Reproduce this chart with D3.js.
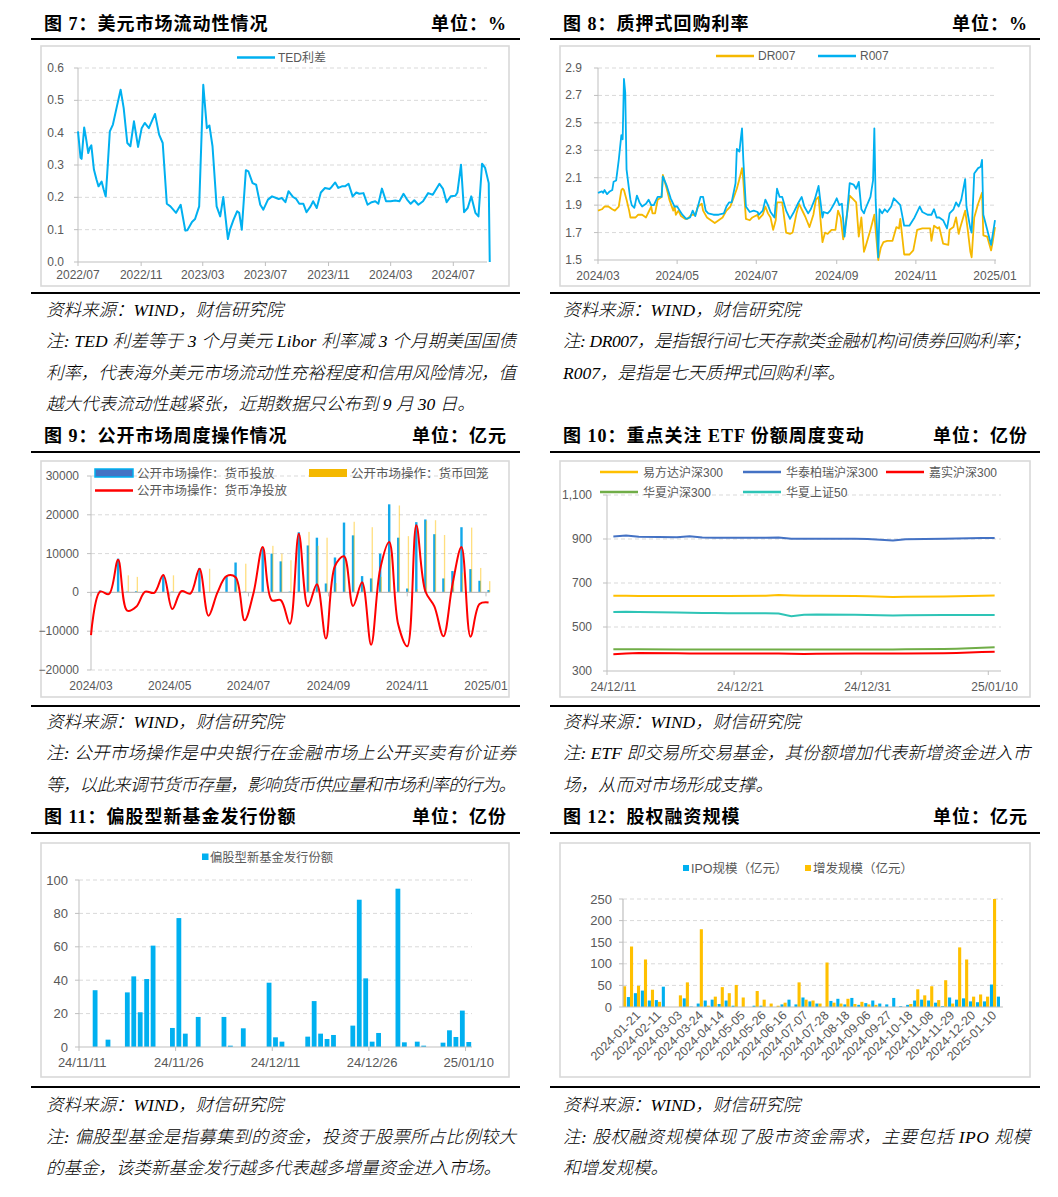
<!DOCTYPE html>
<html lang="zh-CN">
<head>
<meta charset="utf-8">
<title>charts</title>
<script src="https://cdn.jsdelivr.net/npm/d3@7/dist/d3.min.js"></script>
<style>
html,body{margin:0;padding:0;background:#fff;}
svg{display:block;}
</style>
</head>
<body>
<svg id="page" width="1058" height="1197" viewBox="0 0 1058 1197"></svg>
<script>
// ================= DATA =================
// Fig 7: TED spread
const tedDates = ["2022-07-01","2022-07-06","2022-07-08","2022-07-13","2022-07-16","2022-07-21","2022-07-24","2022-07-27","2022-08-01","2022-08-06",
"2022-08-10","2022-08-16","2022-08-20","2022-08-24","2022-08-27","2022-09-01","2022-09-07","2022-09-14","2022-09-22","2022-09-28",
"2022-10-05","2022-10-11","2022-10-18","2022-10-26","2022-11-02","2022-11-08","2022-11-16","2022-11-28","2022-12-06","2022-12-13",
"2022-12-21","2022-12-28","2023-01-08","2023-01-17","2023-01-26","2023-01-30","2023-02-08","2023-02-14","2023-02-22","2023-03-02",
"2023-03-09","2023-03-14","2023-03-20","2023-03-28","2023-04-04","2023-04-10","2023-04-19","2023-04-23","2023-04-30","2023-05-07",
"2023-05-11","2023-05-16","2023-05-24","2023-05-29","2023-06-06","2023-06-13","2023-06-21","2023-06-27","2023-07-06","2023-07-14",
"2023-07-22","2023-07-27","2023-08-02","2023-08-09","2023-08-15","2023-08-24","2023-08-30","2023-09-05","2023-09-13","2023-09-19",
"2023-09-27","2023-10-02","2023-10-09","2023-10-17","2023-10-25","2023-11-03","2023-11-07","2023-11-14","2023-11-20","2023-11-27",
"2023-12-03","2023-12-10","2023-12-18","2023-12-25","2023-12-31","2024-01-08","2024-01-16","2024-01-24","2024-01-31","2024-02-06",
"2024-02-13","2024-02-21","2024-03-01","2024-03-10","2024-03-18","2024-03-26","2024-04-02","2024-04-09","2024-04-16","2024-04-24",
"2024-05-03","2024-05-13","2024-05-22","2024-06-04","2024-06-11","2024-06-18","2024-06-26","2024-07-05","2024-07-09","2024-07-16",
"2024-07-22","2024-07-29","2024-08-05","2024-08-13","2024-08-19","2024-08-26","2024-09-01","2024-09-08","2024-09-10"];
const tedValues = [0.404,0.322,0.319,0.416,0.389,0.337,0.353,0.361,0.286,0.255,
0.234,0.249,0.224,0.203,0.275,0.404,0.425,0.476,0.533,0.476,
0.368,0.358,0.435,0.356,0.414,0.430,0.414,0.458,0.394,0.368,
0.180,0.172,0.152,0.177,0.097,0.098,0.124,0.133,0.172,0.548,
0.414,0.422,0.358,0.172,0.141,0.201,0.071,0.100,0.131,0.157,
0.152,0.100,0.284,0.280,0.244,0.239,0.177,0.162,0.193,0.203,
0.198,0.195,0.198,0.185,0.219,0.201,0.195,0.180,0.180,0.154,
0.172,0.188,0.167,0.215,0.229,0.226,0.232,0.246,0.229,0.234,
0.234,0.242,0.203,0.215,0.211,0.213,0.177,0.185,0.188,0.180,
0.227,0.188,0.188,0.190,0.188,0.211,0.193,0.180,0.191,0.177,
0.188,0.213,0.208,0.242,0.226,0.185,0.203,0.205,0.215,0.301,
0.154,0.167,0.203,0.152,0.141,0.304,0.291,0.244,0.000];
const tedYTicks = [0,0.1,0.2,0.3,0.4,0.5,0.6];
const tedXTicks = ["2022/07","2022/11","2023/03","2023/07","2023/11","2024/03","2024/07"];

// Fig 8: repo rates (day offsets from 2024-03-01)
const repoBase = "2024-03-01";
const r007Days = [0,3,4,5,7,9,11,12,14,16,18,19,20,21,22,24,25,26,28,30,32,34,37,39,41,43,46,49,50,53,
56,59,61,63,65,68,71,73,75,77,79,81,83,85,89,93,97,99,101,103,106,107,109,110,111,112,114,117,120,123,
124,127,129,131,133,136,138,140,142,145,148,151,154,157,159,162,164,167,170,171,173,174,177,179,182,184,186,188,190,192,
194,197,199,201,203,205,206,210,212,213,214,216,217,219,221,223,226,228,231,233,236,240,244,248,250,254,257,259,261,263,
266,269,271,274,276,278,280,283,284,287,288,290,293,295,296,297,300,303,304,306];
const r007Vals = [1.99,2.00,1.99,2.01,1.98,2.00,2.01,2.07,2.08,2.23,2.41,2.38,2.82,2.72,2.16,2.01,1.94,1.90,1.88,1.97,
1.92,1.89,1.91,1.94,1.90,1.90,1.96,1.96,2.11,2.04,1.95,1.89,1.89,1.86,1.83,1.80,1.81,1.86,1.82,1.89,
1.96,1.96,1.86,1.84,1.83,1.83,1.84,1.89,1.92,1.92,2.06,2.31,2.29,2.38,2.46,2.23,1.89,1.85,1.86,1.85,
1.83,1.86,1.94,1.90,1.85,1.81,2.02,1.96,1.96,1.86,1.80,1.85,1.91,1.96,1.89,1.84,1.87,1.94,2.04,1.96,
1.81,1.85,1.84,1.86,1.91,1.95,1.90,1.91,1.67,1.84,2.06,2.05,2.02,2.07,1.87,1.84,1.87,1.96,2.08,2.46,
1.94,1.52,1.87,1.84,1.87,1.85,1.89,1.95,1.92,1.90,1.75,1.75,1.81,1.89,1.85,1.83,1.83,1.87,1.81,1.81,
1.79,1.73,1.84,1.87,1.92,1.89,1.94,2.09,1.89,1.73,1.70,2.13,2.17,2.18,2.23,1.83,1.72,1.61,1.67,1.79];
const dr007Days = [0,3,5,8,11,13,16,18,19,20,22,24,25,29,31,34,37,39,41,42,
44,46,49,50,53,55,58,59,60,62,64,67,69,72,75,77,80,81,84,87,
90,93,96,99,102,104,107,109,111,112,114,117,119,123,124,127,129,131,133,135,
137,138,142,145,148,150,153,155,158,160,163,166,168,170,173,175,177,180,183,185,
187,189,192,194,197,199,201,203,205,206,210,213,216,218,220,223,227,230,232,233,
236,240,243,246,250,256,257,259,262,263,266,270,271,274,276,278,279,283,285,287,
288,290,293,296,297,300,303,304,306];
const dr007Vals = [1.86,1.87,1.89,1.89,1.87,1.86,1.89,2.01,2.02,2.01,1.94,1.86,1.81,1.81,1.83,1.83,1.81,1.85,1.89,1.84,
1.84,1.94,1.96,2.12,2.02,1.94,1.86,1.89,1.83,1.86,1.82,1.80,1.80,1.83,1.83,1.89,1.91,1.86,1.81,1.79,
1.77,1.79,1.81,1.86,1.89,1.94,2.02,2.09,2.17,2.08,1.80,1.79,1.81,1.83,1.80,1.83,1.89,1.84,1.81,1.72,
1.79,1.92,1.92,1.70,1.69,1.70,1.84,1.91,1.85,1.81,1.74,1.83,1.94,1.96,1.63,1.70,1.69,1.72,1.72,1.86,
1.81,1.65,1.84,1.97,1.94,1.92,1.67,1.81,1.56,1.59,1.72,1.83,1.50,1.59,1.63,1.64,1.64,1.74,1.73,1.80,
1.54,1.54,1.57,1.72,1.73,1.73,1.64,1.75,1.73,1.74,1.62,1.61,1.72,1.74,1.81,1.69,1.73,1.86,1.72,1.56,
1.52,1.81,1.91,1.99,1.68,1.67,1.57,1.62,1.74];
const repoYTicks = [1.5,1.7,1.9,2.1,2.3,2.5,2.7,2.9];
const repoXTicks = ["2024/03","2024/05","2024/07","2024/09","2024/11","2025/01"];

// Fig 9: open market operations (weekly)
const omoDates = ["2024-03-01","2024-03-08","2024-03-15","2024-03-22","2024-03-29","2024-04-05","2024-04-12","2024-04-19","2024-04-26","2024-05-03",
"2024-05-10","2024-05-17","2024-05-24","2024-05-31","2024-06-07","2024-06-14","2024-06-21","2024-06-28","2024-07-05","2024-07-12",
"2024-07-19","2024-07-26","2024-08-02","2024-08-09","2024-08-16","2024-08-23","2024-08-30","2024-09-06","2024-09-13","2024-09-20",
"2024-09-27","2024-10-04","2024-10-11","2024-10-18","2024-10-25","2024-11-01","2024-11-08","2024-11-15","2024-11-22","2024-11-29",
"2024-12-06","2024-12-13","2024-12-20","2024-12-27","2025-01-03"];
const omoInject = [0,500,0,8700,200,300,200,0,4500,200,300,0,6300,0,0,4200,7700,200,0,11700,
10000,8000,200,15500,12100,14100,2300,9000,18000,14700,4200,3600,10000,22700,14100,1000,18100,18800,15000,3600,
5500,16800,6000,3000,600];
const omoWithdraw = [0,300,400,300,4400,4000,0,100,0,4400,0,300,200,6100,0,0,3800,7400,0,0,
12000,10000,8300,400,15600,12000,14100,2400,8700,18200,1600,16800,4000,9700,22400,14500,800,18500,18600,14800,
3500,5100,16700,6300,2900];
const omoNet = [-11000,200,-400,8400,-4700,-3700,200,-100,4500,-4300,300,-300,6100,-6000,0,4200,3900,-7200,0,11700,
-2000,-2000,-8100,15100,-3600,2100,-11900,6800,9300,-3500,2600,-13500,6000,13000,-8300,-13900,17300,300,-3600,-11300,
2000,11700,-11400,-3000,-2600];
const omoYTicks = [-20000,-10000,0,10000,20000,30000];
const omoXTicks = ["2024/03","2024/05","2024/07","2024/09","2024/11","2025/01"];

// Fig 10: ETF shares
const etfDates = ["2024-12-11","2024-12-12","2024-12-13","2024-12-16","2024-12-17","2024-12-18","2024-12-19","2024-12-20","2024-12-23","2024-12-24","2024-12-25",
"2024-12-26","2024-12-27","2024-12-30","2024-12-31","2025-01-02","2025-01-03","2025-01-06","2025-01-07","2025-01-08","2025-01-09","2025-01-10"];
const etfNames = ["易方达沪深300","华泰柏瑞沪深300","嘉实沪深300","华夏沪深300","华夏上证50"];
const etfYiFangDa = [642,642,641,641,641,641,641,641,642,645,643,642,642,641,640,636,637,639,640,641,642,643];
const etfHuaTai = [911,916,910,908,912,907,906,906,906,907,901,901,901,901,900,893,899,901,902,903,904,904];
const etfJiaShi = [376,379,382,381,380,379,379,379,379,379,378,377,378,379,379,379,380,381,382,384,386,387];
const etfHuaXia300 = [399,399,399,398,398,398,398,398,398,398,398,398,398,398,398,398,399,400,401,403,406,408];
const etfHuaXia50 = [568,569,568,566,565,564,564,563,562,561,549,556,557,556,555,552,553,554,554,554,554,554];
const etfYTicks = [300,500,700,900,1100];
const etfXTicks = ["2024-12-11","2024-12-21","2024-12-31","2025-01-10"];

// Fig 11: new equity fund issuance
const fundDates = ["2024-11-13","2024-11-15","2024-11-18","2024-11-19","2024-11-20","2024-11-21","2024-11-22","2024-11-25","2024-11-26","2024-11-27",
"2024-11-29","2024-12-03","2024-12-04","2024-12-06","2024-12-10","2024-12-11","2024-12-12","2024-12-16","2024-12-17","2024-12-18",
"2024-12-19","2024-12-20","2024-12-23","2024-12-24","2024-12-25","2024-12-26","2024-12-27","2024-12-30","2024-12-31","2025-01-02",
"2025-01-03","2025-01-06","2025-01-07","2025-01-08","2025-01-09","2025-01-10"];
const fundValues = [34,4.4,32.7,42.3,20.8,40.7,60.7,11.4,77.2,8.0,18.0,18.0,0.8,11.2,38.5,5.8,3.2,6.2,27.5,8.0,
4.8,7.2,12.8,88.2,41.1,3.2,8.4,94.8,2.8,3.2,0.8,2.6,10.0,6.0,21.8,3.0];
const fundYTicks = [0,20,40,60,80,100];
const fundXTicks = ["2024-11-11","2024-11-26","2024-12-11","2024-12-26","2025-01-10"];

// Fig 12: equity financing (weekly categories; every 3rd one labelled)
const eqCats = ["2024-01-07","2024-01-14","2024-01-21","2024-01-28","2024-02-04","2024-02-11","2024-02-18","2024-02-25","2024-03-03","2024-03-10",
"2024-03-17","2024-03-24","2024-03-31","2024-04-07","2024-04-14","2024-04-21","2024-04-28","2024-05-05","2024-05-12","2024-05-19",
"2024-05-26","2024-06-02","2024-06-09","2024-06-16","2024-06-23","2024-06-30","2024-07-07","2024-07-14","2024-07-21","2024-07-28",
"2024-08-04","2024-08-11","2024-08-18","2024-08-25","2024-08-30","2024-09-06","2024-09-13","2024-09-20","2024-09-27","2024-10-04",
"2024-10-11","2024-10-18","2024-10-25","2024-11-01","2024-11-08","2024-11-15","2024-11-22","2024-11-29","2024-12-06","2024-12-13",
"2024-12-20","2024-12-27","2025-01-03","2025-01-10","2025-01-17"];
const ipoVals = [0,23,32,38,15,16,47,0,0,20, 1,8,15,17,7,15,3,0,0,3, 3,0,0,6,17,6,22,13,8,0,
14,19,6,21,5,9,15,8,6,21, 2,5,15,17,15,10,2,22,17,20, 13,11,13,52,24];
const spoVals = [48,140,49,110,40,12,0,0,27,57, 0,180,3,24,46,32,51,22,0,37, 17,8,3,10,0,57,17,15,8,103,
10,8,19,7,12,6,5,0,0,0, 0,7,41,27,48,16,62,8,138,110, 24,29,24,250,0];
const eqYTicks = [0,50,100,150,200,250];

// ================= DRAWING =================
const svg = d3.select("#page");
const P = d3.timeParse("%Y-%m-%d");
const PM = d3.timeParse("%Y/%m");
const SANS = "'Liberation Sans','Noto Sans CJK SC',sans-serif";
const SERIF = "'Liberation Serif','Noto Sans CJK SC',serif";
const TXT = "#595959", GRID = "#d9d9d9", AX = "#bfbfbf";
const CYAN = "#00b0f0", GOLD = "#ffc000";

function ln(g,x1,y1,x2,y2,st,w,dash){
  return g.append("line").attr("x1",x1).attr("y1",y1).attr("x2",x2).attr("y2",y2)
    .attr("stroke",st).attr("stroke-width",w).attr("stroke-dasharray",dash||null);
}
function tx(g,x,y,s,size,anchor,fill,fam){
  return g.append("text").attr("x",x).attr("y",y).attr("font-size",size)
    .attr("text-anchor",anchor||"start").attr("fill",fill||TXT).attr("font-family",fam||SANS).text(s);
}

// ---------- frames, titles, notes ----------
const cols = [
  {r0:31,r1:520,tx:44,ux:507,b0:41,b1:509,nx:46,nw:470},
  {r0:550,r1:1040,tx:563,ux:1028,b0:560,b1:1030,nx:563,nw:467}
];
const rows = [
  {ty:30,rt:39,rb:293,bt:46,bb:286,ny:[316,347,379,410]},
  {ty:442,rt:452,rb:706,bt:461,bb:697,ny:[728,759,791]},
  {ty:823,rt:833,rb:1087,bt:843,bb:1077,ny:[1111,1143,1174]}
];
const panels = [
  {c:0,r:0,title:"图 7：美元市场流动性情况",unit:"单位：%",
   notes:[["资料来源：WIND，财信研究院",0],["注: TED 利差等于 3 个月美元 Libor 利率减 3 个月期美国国债",1],["利率，代表海外美元市场流动性充裕程度和信用风险情况，值",1],["越大代表流动性越紧张，近期数据只公布到 9 月 30 日。",0]]},
  {c:1,r:0,title:"图 8：质押式回购利率",unit:"单位：%",
   notes:[["资料来源：WIND，财信研究院",0],["注: DR007，是指银行间七天存款类金融机构间债券回购利率；",1],["R007，是指是七天质押式回购利率。",0]]},
  {c:0,r:1,title:"图 9：公开市场周度操作情况",unit:"单位：亿元",
   notes:[["资料来源：WIND，财信研究院",0],["注: 公开市场操作是中央银行在金融市场上公开买卖有价证券",1],["等，以此来调节货币存量，影响货币供应量和市场利率的行为。",1]]},
  {c:1,r:1,title:"图 10：重点关注 ETF 份额周度变动",unit:"单位：亿份",
   notes:[["资料来源：WIND，财信研究院",0],["注: ETF 即交易所交易基金，其份额增加代表新增资金进入市",1],["场，从而对市场形成支撑。",0]]},
  {c:0,r:2,title:"图 11：偏股型新基金发行份额",unit:"单位：亿份",
   notes:[["资料来源：WIND，财信研究院",0],["注: 偏股型基金是指募集到的资金，投资于股票所占比例较大",1],["的基金，该类新基金发行越多代表越多增量资金进入市场。",0]]},
  {c:1,r:2,title:"图 12：股权融资规模",unit:"单位：亿元",
   notes:[["资料来源：WIND，财信研究院",0],["注: 股权融资规模体现了股市资金需求，主要包括 IPO 规模",1],["和增发规模。",0]]}
];
const frameG = svg.append("g");
panels.forEach(p=>{
  const c = cols[p.c], r = rows[p.r];
  frameG.append("rect").attr("x",c.b0).attr("y",r.bt).attr("width",c.b1-c.b0).attr("height",r.bb-r.bt)
    .attr("fill","#fff").attr("stroke","#d9d9d9").attr("stroke-width",1.6);
  ln(frameG,c.r0,r.rt,c.r1,r.rt,"#000",2.2);
  ln(frameG,c.r0,r.rb,c.r1,r.rb,"#000",2.2);
  tx(frameG,c.tx,r.ty,p.title,18,"start","#000",SERIF).attr("font-weight","bold").attr("letter-spacing","1px");
  tx(frameG,c.ux,r.ty,p.unit,18,"end","#000",SERIF).attr("font-weight","bold").attr("letter-spacing","1px");
  p.notes.forEach((n,i)=>{
    const t = tx(frameG,c.nx,r.ny[i],n[0],17.5,"start","#000",SERIF)
      .attr("font-style","italic").attr("font-weight",300);
    if(n[1]) t.attr("textLength",c.nw).attr("lengthAdjust","spacing");
  });
});

// ---------- Fig 7 ----------
(function(){
  const g = svg.append("g");
  const x = d3.scaleTime().domain([P("2022-07-01"),P("2024-07-01")]).range([78,453.3]);
  const y = d3.scaleLinear().domain([0,0.6]).range([262,68]);
  const xEnd = 487;
  tedYTicks.forEach(v=>{
    if(v!==0) ln(g,78,y(v),xEnd,y(v),GRID,1,"4,3");
    ln(g,74,y(v),78,y(v),AX,1);
    tx(g,64,y(v)+4,v.toFixed(1),12,"end");
  });
  ln(g,78,68,78,262,AX,1);
  ln(g,78,262,xEnd,262,AX,1);
  tedXTicks.forEach(s=>{const xx=x(PM(s)); ln(g,xx,262,xx,266,AX,1); tx(g,xx,279,s,12,"middle");});
  const data = tedDates.map((d,i)=>[P(d),tedValues[i]]);
  g.append("path").datum(data).attr("d",d3.line().x(d=>x(d[0])).y(d=>y(d[1])))
    .attr("fill","none").attr("stroke",CYAN).attr("stroke-width",2).attr("stroke-linejoin","round");
  ln(g,237,57.5,275,57.5,CYAN,2.5);
  tx(g,278,61.5,"TED利差",12,"start");
})();

// ---------- Fig 8 ----------
(function(){
  const g = svg.append("g");
  const x = d3.scaleTime().domain([P("2024-03-01"),P("2025-01-01")]).range([598,995]);
  const y = d3.scaleLinear().domain([1.5,2.9]).range([260,68]);
  const xEnd = 996, base = P(repoBase);
  repoYTicks.forEach(v=>{
    if(v!==1.5) ln(g,598,y(v),xEnd,y(v),GRID,1,"4,3");
    ln(g,594,y(v),598,y(v),AX,1);
    tx(g,582,y(v)+4,v.toFixed(1),12,"end");
  });
  ln(g,598,68,598,260,AX,1);
  ln(g,598,260,xEnd,260,AX,1);
  repoXTicks.forEach(s=>{const xx=x(PM(s)); ln(g,xx,260,xx,264,AX,1); tx(g,xx,280,s,12,"middle");});
  const mk = (days,vals)=>days.map((d,i)=>[d3.timeDay.offset(base,d),vals[i]]);
  const lg = d3.line().x(d=>x(d[0])).y(d=>y(d[1]));
  g.append("path").datum(mk(dr007Days,dr007Vals)).attr("d",lg).attr("fill","none")
    .attr("stroke","#f5b800").attr("stroke-width",1.8).attr("stroke-linejoin","round");
  g.append("path").datum(mk(r007Days,r007Vals)).attr("d",lg).attr("fill","none")
    .attr("stroke",CYAN).attr("stroke-width",1.8).attr("stroke-linejoin","round");
  ln(g,716,56,754,56,"#f5b800",2.5); tx(g,758,60,"DR007",12,"start");
  ln(g,818,56,856,56,CYAN,2.5); tx(g,860,60,"R007",12,"start");
})();

// ---------- Fig 9 ----------
(function(){
  const g = svg.append("g");
  const x = d3.scaleTime().domain([P("2024-03-01"),P("2025-01-01")]).range([91,486]);
  const y = d3.scaleLinear().domain([-20000,30000]).range([670,476]);
  const xEnd = 489;
  omoYTicks.forEach(v=>{
    if(v!==0) ln(g,91,y(v),xEnd,y(v),GRID,1,"4,3");
    ln(g,87,y(v),91,y(v),AX,1);
    tx(g,79,y(v)+4,d3.format("d")(v),12,"end");
  });
  ln(g,91,476,91,670,AX,1);
  omoDates.forEach((d,i)=>{
    const xc = x(P(d));
    if(omoInject[i]>0) g.append("rect").attr("x",xc-1.2).attr("width",2.4)
      .attr("y",y(omoInject[i])).attr("height",y(0)-y(omoInject[i])).attr("fill","#12a8ea");
    if(omoWithdraw[i]>0) g.append("rect").attr("x",xc+0.5).attr("width",1.3)
      .attr("y",y(omoWithdraw[i])).attr("height",y(0)-y(omoWithdraw[i])).attr("fill",GOLD).attr("opacity",0.5);
  });
  ln(g,91,y(0),xEnd,y(0),AX,1.2);
  omoXTicks.forEach(s=>{const xx=x(PM(s)); ln(g,xx,y(0),xx,y(0)+4,AX,1); tx(g,xx,690,s,12,"middle");});
  const data = omoDates.map((d,i)=>[P(d),omoNet[i]]);
  g.append("path").datum(data).attr("d",d3.line().x(d=>x(d[0])).y(d=>y(d[1])).curve(d3.curveCatmullRom))
    .attr("fill","none").attr("stroke","#ff0000").attr("stroke-width",2);
  g.append("rect").attr("x",95).attr("y",469).attr("width",38).attr("height",8).attr("fill","#4472c4").attr("stroke",CYAN).attr("stroke-width",1.5);
  tx(g,137,477.5,"公开市场操作：货币投放",12.5,"start");
  g.append("rect").attr("x",309).attr("y",469).attr("width",38).attr("height",8).attr("fill","#f4b800");
  tx(g,351,477.5,"公开市场操作：货币回笼",12.5,"start");
  ln(g,95,490.5,133,490.5,"#ff0000",2.5);
  tx(g,137,495,"公开市场操作：货币净投放",12.5,"start");
})();

// ---------- Fig 10 ----------
(function(){
  const g = svg.append("g");
  const x = d3.scaleTime().domain([P("2024-12-11"),P("2025-01-11")]).range([607,1001]);
  const mid = s=>d3.timeHour.offset(P(s),12);
  const y = d3.scaleLinear().domain([300,1100]).range([671,495]);
  etfYTicks.forEach(v=>{
    if(v!==300) ln(g,607,y(v),1001,y(v),GRID,1,"4,3");
    ln(g,603,y(v),607,y(v),AX,1);
    tx(g,592,y(v)+4,d3.format(",")(v),12,"end");
  });
  ln(g,607,495,607,671,AX,1);
  ln(g,607,671,1001,671,AX,1);
  const fmt = d3.timeFormat("%y/%m/%d");
  etfXTicks.forEach(s=>{const xx=x(P(s)); ln(g,xx,671,xx,675,AX,1); tx(g,x(mid(s)),691,fmt(P(s)),12,"middle");});
  const series = [etfYiFangDa,etfHuaTai,etfJiaShi,etfHuaXia300,etfHuaXia50];
  const colors = [GOLD,"#4472c4","#ff0000","#70ad47","#2ec4b6"];
  const lg = d3.line().x(d=>x(d[0])).y(d=>y(d[1]));
  [4,3,0,1,2].forEach(k=>{
    g.append("path").datum(etfDates.map((d,i)=>[mid(d),series[k][i]])).attr("d",lg)
      .attr("fill","none").attr("stroke",colors[k]).attr("stroke-width",2);
  });
  const leg = [[600,472],[743,472],[886,472],[600,492],[743,492]];
  etfNames.forEach((n,k)=>{
    ln(g,leg[k][0],leg[k][1],leg[k][0]+38,leg[k][1],colors[k],2.5);
    tx(g,leg[k][0]+43,leg[k][1]+4.5,n,12,"start");
  });
})();

// ---------- Fig 11 ----------
(function(){
  const g = svg.append("g");
  const x = d3.scaleTime().domain([P("2024-11-11"),P("2025-01-11")]).range([79,472]);
  const mid = s=>d3.timeHour.offset(P(s),12);
  const y = d3.scaleLinear().domain([0,100]).range([1047,880]);
  fundYTicks.forEach(v=>{
    if(v!==0) ln(g,79,y(v),472,y(v),GRID,1,"4,3");
    ln(g,75,y(v),79,y(v),AX,1);
    tx(g,68,y(v)+4.5,v,13,"end");
  });
  ln(g,79,880,79,1047,AX,1);
  fundDates.forEach((d,i)=>{
    const xc = x(mid(d));
    g.append("rect").attr("x",xc-2.4).attr("width",4.8).attr("y",y(fundValues[i]))
      .attr("height",y(0)-y(fundValues[i])).attr("fill",CYAN);
  });
  ln(g,79,1047,472,1047,AX,1.2);
  const fmt = d3.timeFormat("%y/%m/%d");
  fundXTicks.forEach(s=>{const xx=x(P(s)); ln(g,xx,1047,xx,1051,AX,1); tx(g,x(mid(s)),1066.5,fmt(P(s)),13,"middle");});
  g.append("rect").attr("x",202).attr("y",853.5).attr("width",6.5).attr("height",6.5).attr("fill",CYAN);
  tx(g,210,861.5,"偏股型新基金发行份额",12.3,"start");
})();

// ---------- Fig 12 ----------
(function(){
  const g = svg.append("g");
  const x = d3.scalePoint().domain(eqCats).range([623,1000]);
  const y = d3.scaleLinear().domain([0,250]).range([1007,899]);
  eqYTicks.forEach(v=>{
    if(v!==0) ln(g,623,y(v),1003,y(v),GRID,1,"4,3");
    ln(g,619,y(v),623,y(v),AX,1);
    tx(g,612,y(v)+4.5,v,13,"end");
  });
  eqCats.forEach((c,i)=>{
    const xc = x(c);
    if(ipoVals[i]>0) g.append("rect").attr("x",xc-3.1).attr("width",3.1).attr("y",y(ipoVals[i]))
      .attr("height",y(0)-y(ipoVals[i])).attr("fill",CYAN);
    if(spoVals[i]>0) g.append("rect").attr("x",xc).attr("width",3.1).attr("y",y(spoVals[i]))
      .attr("height",y(0)-y(spoVals[i])).attr("fill",GOLD);
  });
  ln(g,623,899,623,1007,AX,1.2);
  ln(g,623,1007,1003,1007,AX,1.2);
  eqCats.forEach((c,i)=>{
    if(i%3!==2) return;
    const xc = x(c);
    g.append("text").attr("transform",`translate(${xc+1},1013) rotate(-45)`)
      .attr("text-anchor","end").attr("dy","0.35em").attr("font-size",12.5)
      .attr("font-family",SANS).attr("fill",TXT).text(c);
  });
  g.append("rect").attr("x",683).attr("y",865).attr("width",6).attr("height",6).attr("fill",CYAN);
  tx(g,691,872.5,"IPO规模（亿元）",12.5,"start");
  g.append("rect").attr("x",805).attr("y",865).attr("width",6).attr("height",6).attr("fill",GOLD);
  tx(g,813,872.5,"增发规模（亿元）",12.5,"start");
})();
</script>
</body>
</html>
